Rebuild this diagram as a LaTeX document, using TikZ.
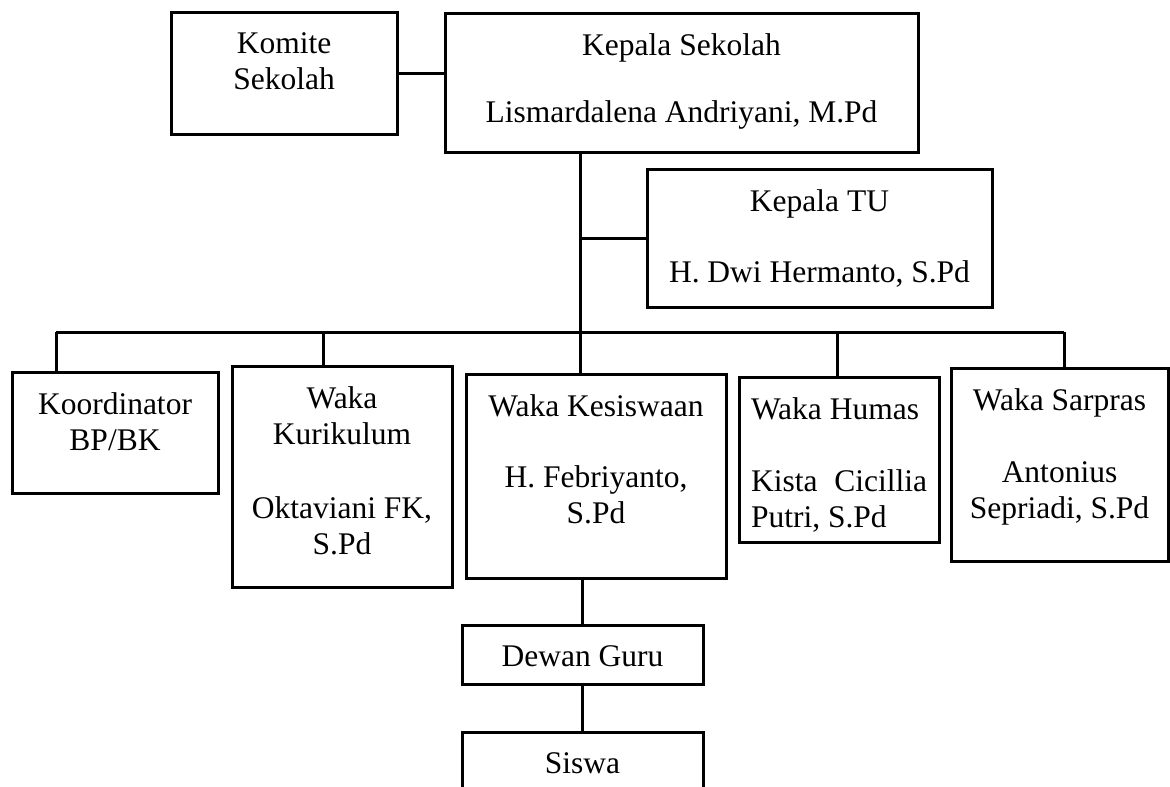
\documentclass[tikz,border=0pt]{standalone}
\usepackage{fontspec}
\setmainfont{Liberation Serif}

\begin{document}
\begin{tikzpicture}[x=1pt,y=-1pt,line width=3pt,
    kotak/.style={draw,rectangle,anchor=north west,outer sep=0pt,inner sep=0pt},
    isi/.style={anchor=north,align=center,inner sep=0pt,yshift=-19pt,
      font=\fontsize{31.5}{36}\selectfont}]
  \useasboundingbox (0,0) rectangle (1170,787);
  \clip (0,0) rectangle (1170,787);

  \node[kotak,minimum width=226pt,minimum height=122pt,
    label={[isi]north:{Komite\\Sekolah}}] (komite) at (171,12) {};
  \node[kotak,minimum width=473pt,minimum height=139pt,
    label={[isi]north:{Kepala Sekolah\\[31pt]Lismardalena Andriyani, M.Pd}}] (kepala) at (445,13) {};
  \node[kotak,minimum width=345pt,minimum height=138pt,
    label={[isi]north:{Kepala TU\\[35pt]H. Dwi Hermanto, S.Pd}}] (kepalatu) at (647,169) {};

  \node[kotak,minimum width=206pt,minimum height=121pt,
    label={[isi]north:{Koordinator\\BP/BK}}] (koordinator) at (12,372) {};
  \node[kotak,minimum width=220pt,minimum height=221pt,
    label={[isi]north:{Waka\\Kurikulum\\[38pt]Oktaviani FK,\\S.Pd}}] (kurikulum) at (232,366) {};
  \node[kotak,minimum width=260pt,minimum height=204pt,
    label={[isi]north:{Waka Kesiswaan\\[35pt]H. Febriyanto,\\S.Pd}}] (kesiswaan) at (466,374) {};
  \node[kotak,minimum width=200pt,minimum height=165pt,
    label={[isi,text width=176pt,align=flush left]north:{Waka Humas\\[36pt]Kista\hfill Cicillia\\Putri, S.Pd}}] (humas) at (739,377) {};
  \node[kotak,minimum width=217pt,minimum height=193pt,
    label={[isi]north:{Waka Sarpras\\[36pt]Antonius\\Sepriadi, S.Pd}}] (sarpras) at (951,368) {};

  \node[kotak,minimum width=241pt,minimum height=59pt,
    label={[isi]north:{Dewan Guru}}] (dewan) at (462,625) {};
  \node[kotak,minimum width=241pt,minimum height=100pt,
    label={[isi]north:{Siswa}}] (siswa) at (462,732) {};

  \foreach \n/\x in {koordinator/56,kurikulum/323,kesiswaan/580,humas/837,sarpras/1064} {
    \coordinate (t-\n) at (\x,332);
    \draw (t-\n) -- (t-\n |- \n.north);
  }
  \draw (t-koordinator) -- (t-sarpras);
  \draw (kepala.south -| t-kesiswaan) -- (t-kesiswaan);
  \draw (kepalatu.west) -- (kepalatu.west -| t-kesiswaan);
  \draw (komite.east) -- (komite.east -| kepala.west);
  \draw (kesiswaan.south -| dewan.north) -- (dewan.north);
  \draw (dewan) -- (siswa);
\end{tikzpicture}
\end{document}
